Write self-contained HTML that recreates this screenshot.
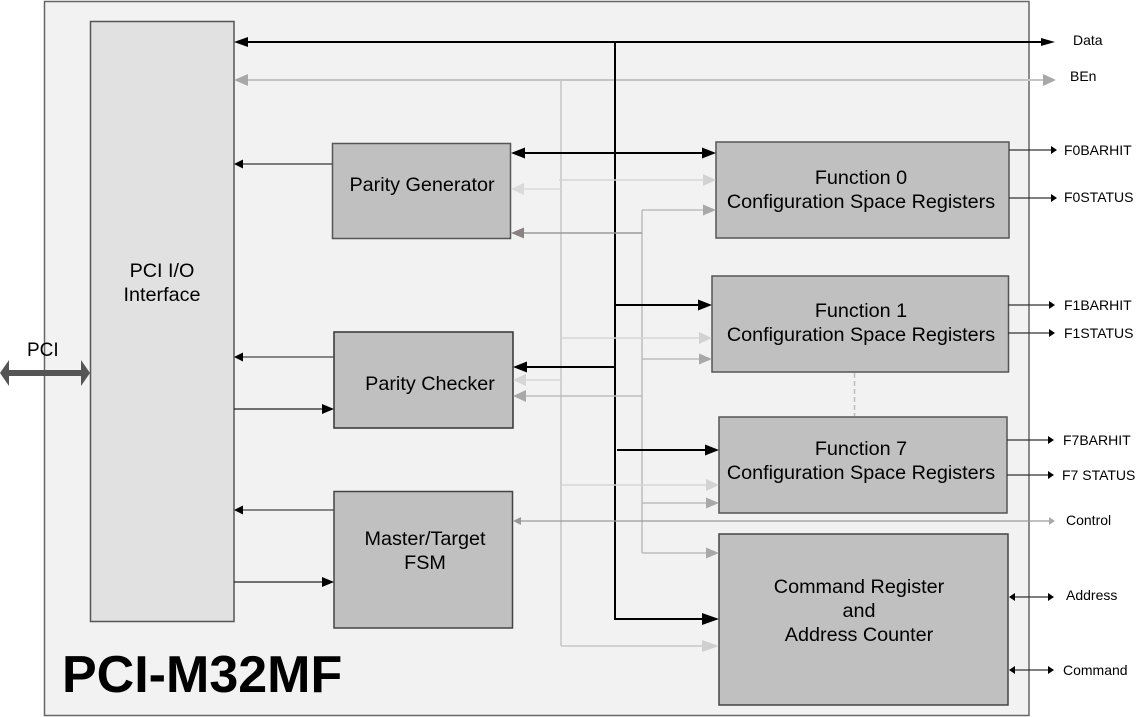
<!DOCTYPE html>
<html><head><meta charset="utf-8"><style>
html,body{margin:0;padding:0;background:#fff;}
svg{display:block;}
text{font-family:"Liberation Sans",Arial,sans-serif;fill:#000;}
</style></head><body>
<svg width="1137" height="717" viewBox="0 0 1137 717" xmlns="http://www.w3.org/2000/svg">
<rect x="44.5" y="1.5" width="984.5" height="714" fill="#f2f2f2" stroke="#666" stroke-width="1.5"/>
<!-- PCI I/O box -->
<rect x="90.5" y="21.5" width="143.5" height="600" fill="#e1e1e1" stroke="#555" stroke-width="1.5"/>
<!-- blocks -->
<rect x="332.5" y="143.5" width="178" height="95" fill="#c0c0c0" stroke="#555" stroke-width="1.5"/>
<rect x="334" y="332" width="179" height="96" fill="#c0c0c0" stroke="#333" stroke-width="1.5"/>
<rect x="334" y="491.5" width="178.5" height="136.5" fill="#c0c0c0" stroke="#444" stroke-width="1.5"/>
<rect x="716" y="142" width="293" height="96" fill="#c0c0c0" stroke="#555" stroke-width="1.5"/>
<rect x="712" y="276" width="296.5" height="96" fill="#c0c0c0" stroke="#555" stroke-width="1.5"/>
<rect x="719" y="417" width="288" height="96" fill="#c0c0c0" stroke="#555" stroke-width="1.5"/>
<rect x="719" y="534" width="289" height="171" fill="#c0c0c0" stroke="#444" stroke-width="1.5"/>
<!-- dashed -->
<line x1="854.5" y1="373" x2="854.5" y2="416" stroke="#bbb" stroke-width="1.5" stroke-dasharray="5,3"/>

<!-- light vertical x=561 -->
<line x1="561" y1="80" x2="561" y2="646" stroke="#c4c4c4" stroke-width="1.5"/>
<line x1="561" y1="646" x2="703" y2="646" stroke="#c8c8c8" stroke-width="1.5"/>
<polygon points="719,646 702,640 702,652" fill="#cfcfcf"/>
<!-- gray vertical x=642 -->
<line x1="642" y1="210" x2="642" y2="553" stroke="#bdbdbd" stroke-width="1.5"/>
<!-- BEn -->
<line x1="247" y1="80" x2="1044" y2="80" stroke="#c4c4c4" stroke-width="2"/>
<polygon points="234,80 248,74 248,86" fill="#a8a8a8"/>
<polygon points="1056,80 1043,74 1043,86" fill="#a8a8a8"/>
<!-- Data -->
<line x1="246" y1="42" x2="1043" y2="42" stroke="#000" stroke-width="2"/>
<polygon points="234,42 248,37 248,47" fill="#000"/>
<polygon points="1055,42 1041,38 1041,46" fill="#000"/>
<!-- bus -->
<line x1="615" y1="42" x2="615" y2="620" stroke="#000" stroke-width="2"/>
<line x1="614" y1="619" x2="704" y2="619" stroke="#000" stroke-width="2"/>
<polygon points="719,619 702,613 702,625" fill="#000"/>

<!-- Parity Gen <-> F0 -->
<line x1="523" y1="153" x2="703" y2="153" stroke="#000" stroke-width="2"/>
<polygon points="511,153 525,147.5 525,158.5" fill="#000"/>
<polygon points="716,153 702,147.5 702,158.5" fill="#000"/>
<line x1="559" y1="180" x2="703" y2="180" stroke="#d6d6d6" stroke-width="1.5"/>
<polygon points="716,180 703,174 703,186" fill="#d2d2d2"/>
<line x1="561" y1="189" x2="523" y2="189" stroke="#dadada" stroke-width="1.5"/>
<polygon points="511,189 524,183 524,195" fill="#dadada"/>
<line x1="642" y1="210" x2="703" y2="210" stroke="#bdbdbd" stroke-width="1.5"/>
<polygon points="716,210 703,204.5 703,215.5" fill="#a8a8a8"/>
<line x1="642" y1="233" x2="523" y2="233" stroke="#999" stroke-width="1.5"/>
<polygon points="511,233 524,227.5 524,238.5" fill="#8a8282"/>

<!-- Function 1 -->
<line x1="615" y1="305" x2="699" y2="305" stroke="#000" stroke-width="2"/>
<polygon points="712,305 698,299.5 698,310.5" fill="#000"/>
<line x1="561" y1="338" x2="699" y2="338" stroke="#d6d6d6" stroke-width="1.5"/>
<polygon points="712,338 699,332 699,344" fill="#d2d2d2"/>
<line x1="642" y1="359" x2="699" y2="359" stroke="#bdbdbd" stroke-width="1.5"/>
<polygon points="712,359 699,353.5 699,364.5" fill="#a8a8a8"/>

<!-- Parity checker -->
<line x1="615" y1="367" x2="526" y2="367" stroke="#000" stroke-width="2"/>
<polygon points="513,367 527,361.5 527,372.5" fill="#000"/>
<line x1="561" y1="380" x2="526" y2="380" stroke="#d6d6d6" stroke-width="1.5"/>
<polygon points="513,380 526,374 526,386" fill="#d6d6d6"/>
<line x1="642" y1="396" x2="526" y2="396" stroke="#bdbdbd" stroke-width="1.5"/>
<polygon points="513,396 526,390 526,402" fill="#a8a8a8"/>

<!-- Function 7 -->
<line x1="617" y1="450" x2="706" y2="450" stroke="#000" stroke-width="2"/>
<polygon points="719,450 705,444.5 705,455.5" fill="#000"/>
<line x1="561" y1="485" x2="706" y2="485" stroke="#d6d6d6" stroke-width="1.5"/>
<polygon points="719,485 706,479 706,491" fill="#d2d2d2"/>
<line x1="642" y1="503" x2="706" y2="503" stroke="#bdbdbd" stroke-width="1.5"/>
<polygon points="719,503 706,497.5 706,508.5" fill="#a8a8a8"/>

<!-- Control -->
<line x1="519" y1="521" x2="1050" y2="521" stroke="#9a9a9a" stroke-width="1.2"/>
<polygon points="513,521 521,517 521,525" fill="#999"/>
<polygon points="1055,521 1049,517 1049,525" fill="#aaa"/>
<!-- Command gray -->
<line x1="642" y1="553" x2="706" y2="553" stroke="#bdbdbd" stroke-width="1.5"/>
<polygon points="719,553 706,547.5 706,558.5" fill="#a8a8a8"/>

<!-- left arrows -->
<line x1="332" y1="164" x2="242" y2="164" stroke="#555" stroke-width="1.5"/>
<polygon points="234,164 243,159.5 243,168.5" fill="#000"/>
<line x1="334" y1="357" x2="242" y2="357" stroke="#444" stroke-width="1.2"/>
<polygon points="234,357 243,352.5 243,361.5" fill="#000"/>
<line x1="234" y1="409" x2="323" y2="409" stroke="#222" stroke-width="1.2"/>
<polygon points="334,409 322,404 322,414" fill="#000"/>
<line x1="334" y1="510" x2="242" y2="510" stroke="#444" stroke-width="1.2"/>
<polygon points="234,510 243,505.5 243,514.5" fill="#000"/>
<line x1="234" y1="582" x2="323" y2="582" stroke="#222" stroke-width="1.2"/>
<polygon points="334,582 322,577 322,587" fill="#000"/>

<!-- PCI bidirectional -->
<line x1="6" y1="373" x2="84" y2="373" stroke="#555" stroke-width="6"/>
<polygon points="0,373 9,360 9,386" fill="#555"/>
<polygon points="90,373 81,360 81,386" fill="#555"/>

<!-- right outputs -->
<g stroke="#333" stroke-width="1.2">
<line x1="1009" y1="150" x2="1052" y2="150"/>
<line x1="1009" y1="198" x2="1052" y2="198"/>
<line x1="1008" y1="305" x2="1050" y2="305"/>
<line x1="1008" y1="333" x2="1050" y2="333"/>
<line x1="1007" y1="440" x2="1049" y2="440"/>
<line x1="1007" y1="475" x2="1049" y2="475"/>
<line x1="1014" y1="597" x2="1049" y2="597"/>
<line x1="1014" y1="670" x2="1049" y2="670"/>
</g>
<g fill="#000">
<polygon points="1057,150 1051,146 1051,154"/>
<polygon points="1057,198 1051,194 1051,202"/>
<polygon points="1055,305 1049,301 1049,309"/>
<polygon points="1055,333 1049,329 1049,337"/>
<polygon points="1054,440 1048,436 1048,444"/>
<polygon points="1054,475 1048,471 1048,479"/>
<polygon points="1009,597 1015,593 1015,601"/>
<polygon points="1054,597 1048,593 1048,601"/>
<polygon points="1009,670 1015,666 1015,674"/>
<polygon points="1054,670 1048,666 1048,674"/>
</g>

<!-- texts -->
<g font-size="19.8" text-anchor="middle">
<text x="162" y="277">PCI I/O</text>
<text x="162" y="301">Interface</text>
<text x="422" y="191">Parity Generator</text>
<text x="430" y="390">Parity Checker</text>
<text x="425" y="545">Master/Target</text>
<text x="425" y="569">FSM</text>
<text x="861" y="184">Function 0</text>
<text x="861" y="208">Configuration Space Registers</text>
<text x="861" y="317">Function 1</text>
<text x="861" y="341">Configuration Space Registers</text>
<text x="861" y="455">Function 7</text>
<text x="861" y="479">Configuration Space Registers</text>
<text x="859" y="593">Command Register</text>
<text x="859" y="617">and</text>
<text x="859" y="641">Address Counter</text>
</g>
<g font-size="14">
<text x="1073" y="45">Data</text>
<text x="1070" y="81">BEn</text>
<text x="1064" y="155">F0BARHIT</text>
<text x="1064" y="202">F0STATUS</text>
<text x="1064" y="310">F1BARHIT</text>
<text x="1064" y="338">F1STATUS</text>
<text x="1063" y="445">F7BARHIT</text>
<text x="1062" y="480">F7 STATUS</text>
<text x="1066" y="525">Control</text>
<text x="1066" y="600">Address</text>
<text x="1063" y="675">Command</text>
</g>
<text x="27" y="356" font-size="19">PCI</text>
<text x="62" y="692" font-size="52" font-weight="bold">PCI-M32MF</text>
</svg>
</body></html>
